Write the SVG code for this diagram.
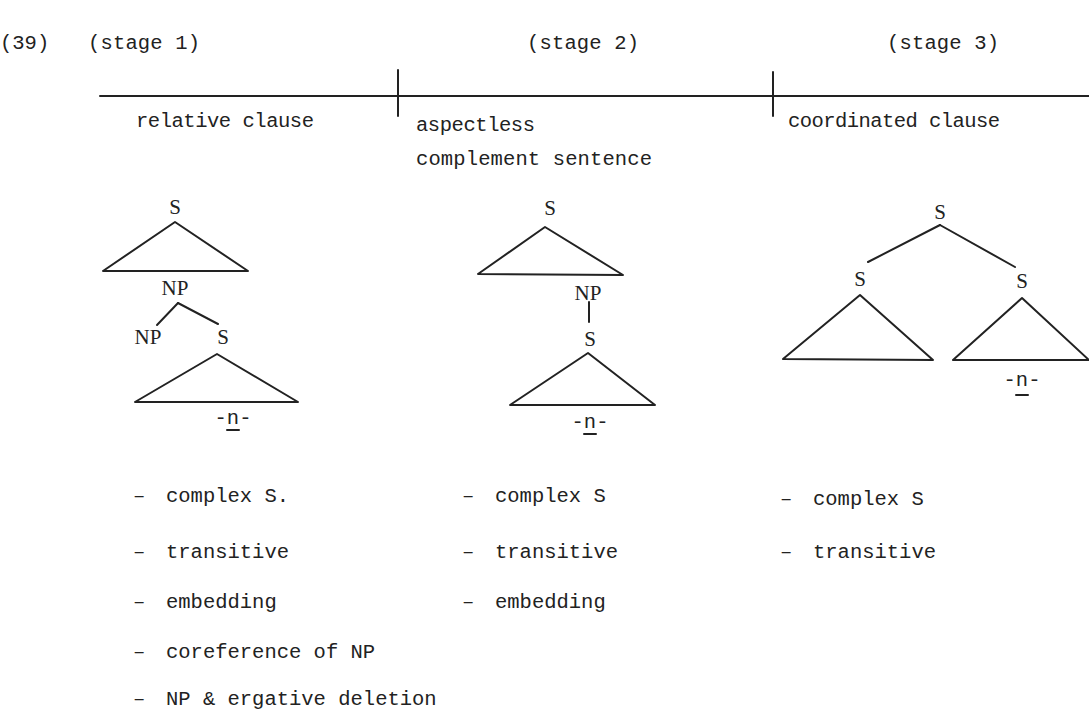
<svg xmlns="http://www.w3.org/2000/svg" width="1089" height="710" viewBox="0 0 1089 710">
<style>
.t{font-family:"Liberation Mono","DejaVu Sans Mono",monospace;font-size:20.5px;fill:#222}
.n{font-family:"Liberation Serif","DejaVu Serif",serif;font-size:21px;fill:#222}
.l{stroke:#222;stroke-width:2;fill:none;stroke-linecap:round;stroke-linejoin:round}
</style>
<rect width="1089" height="710" fill="#fff"/>
<g id="header">
<text class="t" x="0" y="49">(39)</text>
<text class="t" x="88" y="49" textLength="112">(stage 1)</text>
<text class="t" x="527" y="49" textLength="112">(stage 2)</text>
<text class="t" x="887" y="49" textLength="112">(stage 3)</text>
</g>
<g id="timeline">
<line class="l" x1="100" y1="96" x2="1089" y2="96"/>
<line class="l" x1="398" y1="70" x2="398" y2="116"/>
<line class="l" x1="773" y1="72" x2="773" y2="116"/>
<text class="t" x="136" y="127" textLength="178">relative clause</text>
<text class="t" x="416" y="131" textLength="119">aspectless</text>
<text class="t" x="416" y="165" textLength="236">complement sentence</text>
<text class="t" x="788" y="127" textLength="212">coordinated clause</text>
</g>
<g id="tree1">
<text class="n" x="175" y="214" text-anchor="middle">S</text>
<path class="l" d="M175,222 L103,271 L248,271 Z"/>
<text class="n" x="175" y="295" text-anchor="middle">NP</text>
<text class="n" x="148" y="344" text-anchor="middle">NP</text>
<text class="n" x="223" y="344" text-anchor="middle">S</text>
<path class="l" d="M217,354 L135,402 L298,402 Z"/>
<text class="t" x="233" y="424" text-anchor="middle">-n-</text>
<line class="l" x1="227" y1="430" x2="239" y2="430"/>
</g>
<g id="tree2">
<text class="n" x="550" y="215" text-anchor="middle">S</text>
<path class="l" d="M545,227 L478,274 L623,275 Z"/>
<text class="n" x="588" y="300" text-anchor="middle">NP</text>
<text class="n" x="590" y="346" text-anchor="middle">S</text>
<path class="l" d="M588,353 L510,405 L655,405 Z"/>
<text class="t" x="590" y="428" text-anchor="middle">-n-</text>
<line class="l" x1="584" y1="434" x2="596" y2="434"/>
</g>
<g id="tree3">
<text class="n" x="940" y="219" text-anchor="middle">S</text>
<text class="n" x="860" y="286" text-anchor="middle">S</text>
<text class="n" x="1022" y="288" text-anchor="middle">S</text>
<path class="l" d="M860,295 L783,359 L933,360 Z"/>
<path class="l" d="M1022,298 L953,360 L1089,360 Z"/>
<text class="t" x="1022" y="386" text-anchor="middle">-n-</text>
<line class="l" x1="1016" y1="395" x2="1028" y2="395"/>
</g>
<g id="connectors">
<line class="l" x1="178" y1="303" x2="157" y2="325"/>
<line class="l" x1="178" y1="303" x2="218" y2="324"/>
<line class="l" x1="589" y1="302" x2="589" y2="322"/>
<line class="l" x1="940" y1="225" x2="868" y2="262"/>
<line class="l" x1="940" y1="225" x2="1015" y2="267"/>
</g>
<g id="lists">
<text class="t" x="133" y="502">–<tspan x="166">complex S.</tspan></text>
<text class="t" x="133" y="558">–<tspan x="166">transitive</tspan></text>
<text class="t" x="133" y="608">–<tspan x="166">embedding</tspan></text>
<text class="t" x="133" y="658">–<tspan x="166">coreference of NP</tspan></text>
<text class="t" x="133" y="705">–<tspan x="166">NP &amp; ergative deletion</tspan></text>
<text class="t" x="462" y="502">–<tspan x="495">complex S</tspan></text>
<text class="t" x="462" y="558">–<tspan x="495">transitive</tspan></text>
<text class="t" x="462" y="608">–<tspan x="495">embedding</tspan></text>
<text class="t" x="780" y="505">–<tspan x="813">complex S</tspan></text>
<text class="t" x="780" y="558">–<tspan x="813">transitive</tspan></text>
</g>
</svg>
